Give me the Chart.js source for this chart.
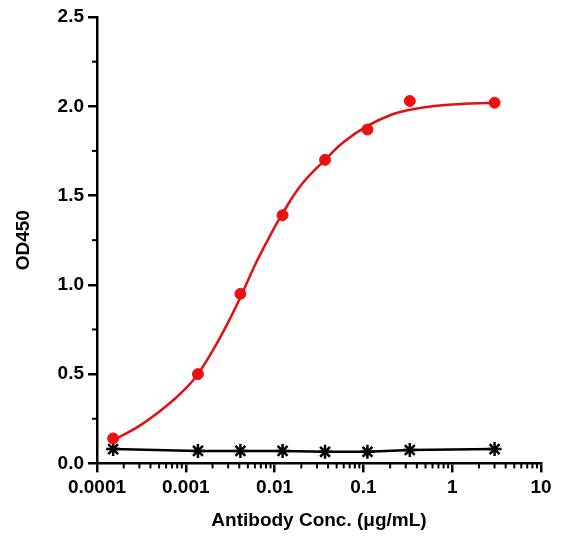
<!DOCTYPE html>
<html><head><meta charset="utf-8">
<script src="https://cdn.jsdelivr.net/npm/chart.js@4"></script>
<style>body{margin:0;background:#fff}#w{width:561px;height:554px}</style>
</head><body><div id="w"><canvas id="c"></canvas></div>
<script>
const conc=[0.000152,0.00137,0.00412,0.0123,0.037,0.111,0.333,3];
const posVals=[0.14,0.50,0.95,1.39,1.70,1.87,2.03,2.02];
const negVals=[0.08,0.07,0.07,0.07,0.065,0.065,0.075,0.08];
const fitX=[0.000152,0.0003,0.0006,0.001,0.00137,0.002,0.003,0.00412,0.006,0.009,0.0123,0.02,0.037,0.06,0.111,0.2,0.333,0.6,1,3];
const fitY=[0.13,0.21,0.32,0.42,0.50,0.63,0.79,0.93,1.11,1.28,1.40,1.56,1.70,1.80,1.89,1.95,1.98,2.00,2.01,2.02];
const xTicks=[0.0001,0.001,0.01,0.1,1,10];
const yTicks=[0,0.5,1.0,1.5,2.0,2.5];
const F='Arial, "Liberation Sans", sans-serif';
const minorPlugin={id:'minor',afterDraw(ch){
  const c=ch.ctx,x=ch.scales.x,y=ch.scales.y;c.save();c.strokeStyle='#000';c.lineWidth=2;
  for(let e=-4;e<1;e++)for(let m=2;m<10;m++){const p=x.getPixelForValue(m*Math.pow(10,e));c.beginPath();c.moveTo(p,y.bottom);c.lineTo(p,y.bottom+5);c.stroke();}
  for(let v=0.25;v<2.5;v+=0.5){const p=y.getPixelForValue(v);c.beginPath();c.moveTo(x.left,p);c.lineTo(x.left-5,p);c.stroke();}
  c.restore();}};
new Chart(document.getElementById('c'),{
 type:'scatter',
 data:{datasets:[
  {data:fitX.map((v,i)=>({x:v,y:fitY[i]})),showLine:true,borderColor:'#e01010',borderWidth:2.5,pointRadius:0,tension:0.4},
  {data:conc.map((v,i)=>({x:v,y:posVals[i]})),backgroundColor:'#ee1111',borderColor:'#ee1111',pointRadius:5.5},
  {data:conc.map((v,i)=>({x:v,y:negVals[i]})),showLine:true,borderColor:'#000',borderWidth:2.5,pointStyle:'star',pointRadius:7,pointBorderWidth:2.5,backgroundColor:'#000'}
 ]},
 plugins:[minorPlugin],
 options:{responsive:true,maintainAspectRatio:false,animation:false,
  layout:{padding:{top:17,right:20,left:8,bottom:18}},
  plugins:{legend:{display:false},tooltip:{enabled:false}},
  scales:{
   x:{type:'logarithmic',min:0.0001,max:10,
    afterBuildTicks:s=>{s.ticks=xTicks.map(v=>({value:v}));},
    ticks:{callback:v=>String(v),color:'#000',font:{family:F,size:19,weight:'bold'},padding:4,maxRotation:0},
    grid:{drawOnChartArea:false,drawTicks:true,tickLength:9,color:'#000',lineWidth:2.5},
    border:{color:'#000',width:2.5},
    title:{display:true,text:'Antibody Conc. (μg/mL)',color:'#000',font:{family:F,size:19,weight:'bold'},padding:{top:6}}},
   y:{min:0,max:2.5,
    afterBuildTicks:s=>{s.ticks=yTicks.map(v=>({value:v}));},
    afterFit:s=>{s.width=89;},
    ticks:{callback:v=>v.toFixed(1),color:'#000',font:{family:F,size:19,weight:'bold'},padding:4},
    grid:{drawOnChartArea:false,drawTicks:true,tickLength:9,color:'#000',lineWidth:2.5},
    border:{color:'#000',width:2.5},
    title:{display:true,text:'OD450',color:'#000',font:{family:F,size:19,weight:'bold'}}}
  }}
});
</script></body></html>
